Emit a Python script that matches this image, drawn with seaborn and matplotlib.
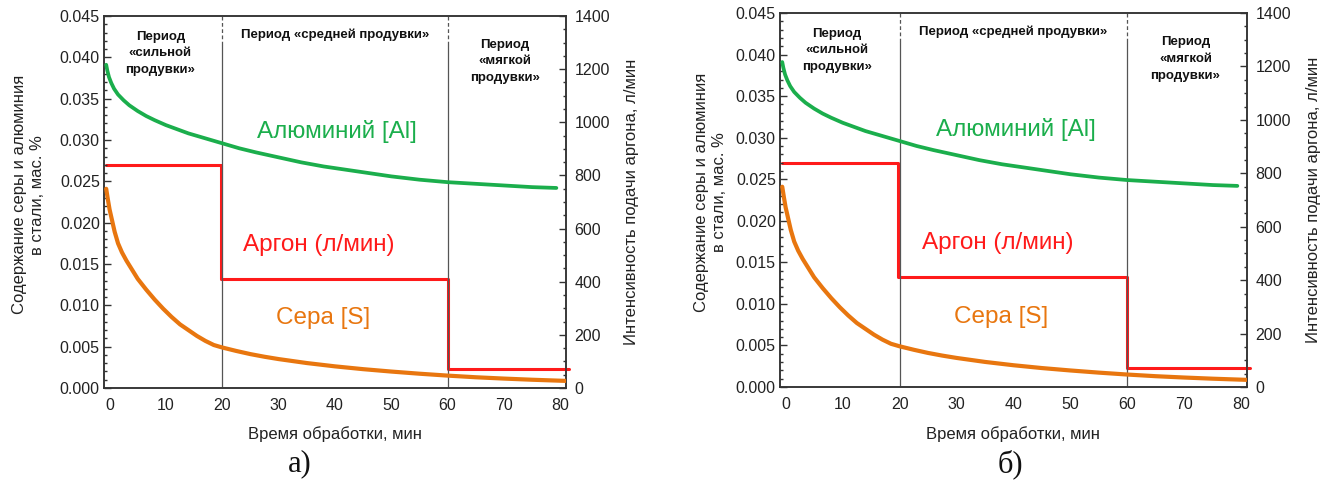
import matplotlib
matplotlib.use("Agg")
import matplotlib.pyplot as plt
from matplotlib.ticker import MultipleLocator, FormatStrFormatter
import pandas as pd
import seaborn as sns

# Aluminium content in steel, wt. %
al_time = [-0.6, -0.4, -0.1, 0.3, 0.8, 1.5, 2.5, 3.5, 5.0, 6.5, 8.0, 10.0,
           12.0, 14.0, 16.0, 18.0, 20.0, 23.0, 26.0, 30.0, 34.0, 38.0, 42.0,
           46.0, 50.0, 55.0, 60.0, 65.0, 70.0, 75.0, 79.3]
al_content = [0.0391, 0.0384, 0.0376, 0.0369, 0.0362, 0.0355, 0.0348, 0.0342,
              0.0335, 0.0329, 0.0324, 0.0318, 0.0313, 0.0308, 0.0304, 0.0300,
              0.0296, 0.0290, 0.0285, 0.0279, 0.0273, 0.0268, 0.0264, 0.0260,
              0.0256, 0.0252, 0.0249, 0.0247, 0.0245, 0.0243, 0.0242]

# Sulphur content in steel, wt. %
s_time = [-0.6, -0.3, 0.0, 0.4, 0.9, 1.5, 2.2, 3.0, 4.0, 5.0, 6.5, 8.0, 9.5,
          11.0, 12.5, 14.0, 15.5, 17.0, 18.5, 20.0, 22.5, 25.0, 27.5, 30.0,
          35.0, 40.0, 45.0, 50.0, 55.0, 60.0, 65.0, 70.0, 75.0, 81.0]
s_content = [0.0241, 0.0228, 0.0216, 0.0204, 0.0189, 0.0175, 0.0164, 0.0154,
             0.0143, 0.0132, 0.0119, 0.0107, 0.0096, 0.0086, 0.0077, 0.0070,
             0.0063, 0.0057, 0.0052, 0.0049, 0.00448, 0.0041, 0.00378, 0.0035,
             0.00302, 0.00262, 0.00228, 0.00199, 0.00173, 0.00150, 0.00130,
             0.00114, 0.00100, 0.00086]

# Argon flow rate, l/min (stepwise schedule)
argon_time = [-0.7, 19.7, 60.0, 81.5]
argon_flow = [840, 410, 70, 70]

period_bounds = [20, 60]
period_names = ["Период\n«сильной\nпродувки»",
                "Период «средней продувки»",
                "Период\n«мягкой\nпродувки»"]
panel_labels = ["а)", "б)"]

GREEN = "#1BAE4C"
RED = "#FF1A1A"
ORANGE = "#E8760F"
TXT = "#222222"

sns.set_theme(style="white")
plt.rcParams["font.family"] = ["Liberation Sans", "DejaVu Sans"]

al_df = pd.DataFrame({"t": al_time, "v": al_content})
s_df = pd.DataFrame({"t": s_time, "v": s_content})
ar_df = pd.DataFrame({"t": argon_time, "v": argon_flow})

fig = plt.figure(figsize=(13.36, 4.97), dpi=100)
positions = [[0.0778, 0.2193, 0.3458, 0.7485],
             [0.5838, 0.2213, 0.3496, 0.7525]]
caption_x = [0.2245, 0.756]
ylabel_x = [-0.163, -0.148]

for pos, cap_x, yl_x, cap in zip(positions, caption_x, ylabel_x, panel_labels):
    ax = fig.add_axes(pos)
    ax2 = ax.twinx()

    for b in period_bounds:
        ax.plot([b, b], [0, 0.0415], color="#555555", lw=0.9, zorder=1)
        ax.plot([b, b], [0.0415, 0.045], color="#555555", lw=0.9,
                ls=(0, (3, 2)), zorder=1)

    sns.lineplot(data=al_df, x="t", y="v", ax=ax, color=GREEN, lw=2.7,
                 estimator=None, zorder=3)
    sns.lineplot(data=s_df, x="t", y="v", ax=ax, color=ORANGE, lw=3.0,
                 estimator=None, zorder=3)
    sns.lineplot(data=ar_df, x="t", y="v", ax=ax2, color=RED, lw=2.2,
                 estimator=None, drawstyle="steps-post", clip_on=False, zorder=3)

    ax.set_xlim(-1, 81)
    ax.set_ylim(0, 0.045)
    ax2.set_ylim(0, 1400)

    ax.xaxis.set_major_locator(MultipleLocator(10))
    ax.xaxis.set_minor_locator(MultipleLocator(2))
    ax.yaxis.set_major_locator(MultipleLocator(0.005))
    ax.yaxis.set_minor_locator(MultipleLocator(0.001))
    ax.yaxis.set_major_formatter(FormatStrFormatter("%.3f"))
    ax2.yaxis.set_major_locator(MultipleLocator(200))
    ax2.yaxis.set_minor_locator(MultipleLocator(50))

    ax.tick_params(which="both", direction="in", top=False, right=False,
                   colors="#333333", labelcolor=TXT, labelsize=11.5, width=1)
    ax.tick_params(which="major", length=5)
    ax.tick_params(which="minor", length=2.5)
    ax.tick_params(axis="x", pad=7)
    ax.tick_params(axis="y", pad=3)
    ax2.tick_params(which="both", direction="in", left=False, top=False,
                    colors="#333333", labelcolor=TXT, labelsize=11.5, width=1)
    ax2.tick_params(which="major", length=5, pad=6)
    ax2.tick_params(which="minor", length=2.5)

    for a in (ax, ax2):
        for sp in a.spines.values():
            sp.set_color("#333333")
            sp.set_linewidth(1.1)

    ax.set_xlabel("Время обработки, мин", fontsize=12, color=TXT)
    ax.xaxis.set_label_coords(0.5, -0.125)
    ax.xaxis.label.set_verticalalignment("center")
    ax.set_ylabel("Содержание серы и алюминия\nв стали, мас. %", fontsize=12,
                  color=TXT, linespacing=1.25)
    ax.yaxis.label.set_verticalalignment("center")
    ax.yaxis.set_label_coords(yl_x, 0.52)
    ax2.set_ylabel("Интенсивность подачи аргона, л/мин", fontsize=12,
                   color=TXT, rotation=90)
    ax2.yaxis.label.set_verticalalignment("center")
    ax2.yaxis.set_label_coords(1.143, 0.5)

    ax.text(9.0, 0.0405, period_names[0], ha="center", va="center",
            fontsize=9.5, fontweight="bold", color="#111111", linespacing=1.5)
    ax.text(40.0, 0.0427, period_names[1], ha="center", va="center",
            fontsize=9.5, fontweight="bold", color="#111111")
    ax.text(70.2, 0.0395, period_names[2], ha="center", va="center",
            fontsize=9.5, fontweight="bold", color="#111111", linespacing=1.55)

    ax.text(40.4, 0.0310, "Алюминий [Al]", ha="center", va="center",
            fontsize=17.5, color=GREEN)
    ax.text(37.2, 0.0173, "Аргон (л/мин)", ha="center", va="center",
            fontsize=17.5, color=RED)
    ax.text(37.9, 0.00843, "Сера [S]", ha="center", va="center",
            fontsize=17.5, color=ORANGE)

    ax.set_zorder(ax2.get_zorder() + 1)
    ax.patch.set_visible(False)

    fig.text(cap_x, 0.066, cap, ha="center", va="center", fontsize=22,
             family=["Liberation Serif", "DejaVu Serif"], color="#111111")

fig.savefig("out.png", dpi=100)
